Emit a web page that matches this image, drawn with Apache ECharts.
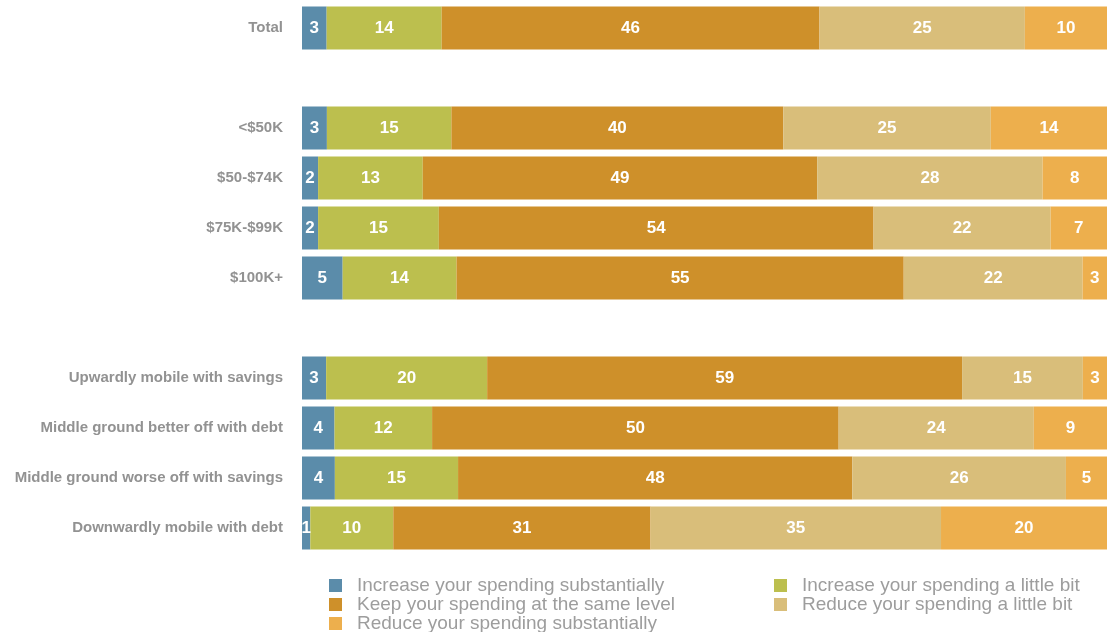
<!DOCTYPE html>
<html>
<head>
<meta charset="utf-8">
<script src="https://cdn.jsdelivr.net/npm/echarts@6/dist/echarts.min.js"></script>
<style>
  html, body { margin: 0; padding: 0; background: #fff; }
  #chart { width: 1107px; height: 632px; }
</style>
</head>
<body>
<div id="chart"></div>
<script>
// Row labels; empty entries are spacer rows between the groups
const categories = [
  'Total', '',
  '<$50K', '$50-$74K', '$75K-$99K', '$100K+', ' ',
  'Upwardly mobile with savings', 'Middle ground better off with debt',
  'Middle ground worse off with savings', 'Downwardly mobile with debt'
];

const seriesNames = [
  'Increase your spending substantially',
  'Increase your spending a little bit',
  'Keep your spending at the same level',
  'Reduce your spending a little bit',
  'Reduce your spending substantially'
];

// Percent of respondents per row (null = spacer row)
const increaseSubstantially = [3, null, 3, 2, 2, 5, null, 3, 4, 4, 1];
const increaseLittle        = [14, null, 15, 13, 15, 14, null, 20, 12, 15, 10];
const keepSame              = [46, null, 40, 49, 54, 55, null, 59, 50, 48, 31];
const reduceLittle          = [25, null, 25, 28, 22, 22, null, 15, 24, 26, 35];
const reduceSubstantially   = [10, null, 14, 8, 7, 3, null, 3, 9, 5, 20];

const colors = ['#5b8caa', '#bcbf4e', '#ce902a', '#d9be7a', '#edaf4d'];

const allSeries = [increaseSubstantially, increaseLittle, keepSame, reduceLittle, reduceSubstantially];

// Each bar is shown as a share of its row, so every row spans the full width
const rowTotals = categories.map((_, i) =>
  allSeries.reduce((s, arr) => s + (arr[i] == null ? 0 : arr[i]), 0));

const font = 'Liberation Sans, Arial, Helvetica, sans-serif';

const series = allSeries.map((arr, k) => ({
  name: seriesNames[k],
  type: 'bar',
  stack: 'all',
  barWidth: 43,
  itemStyle: { color: colors[k] },
  label: {
    show: true,
    position: 'inside',
    color: '#fff',
    fontWeight: 'bold',
    fontSize: 17,
    fontFamily: font,
    formatter: p => (p.data && p.data.raw != null ? String(p.data.raw) : '')
  },
  data: arr.map((v, i) => v == null ? '-' : { value: v / rowTotals[i] * 100, raw: v })
}));

const legendText = {
  fontSize: 19,
  color: '#9d9d9d',
  fontFamily: font,
  lineHeight: 19,
  padding: [0, 0, 0, 10]
};

const chart = echarts.init(document.getElementById('chart'), null, { renderer: 'canvas' });
chart.setOption({
  animation: false,
  backgroundColor: '#fff',
  grid: { left: 302, right: 0, top: 3, height: 550, containLabel: false },
  xAxis: {
    type: 'value', min: 0, max: 100,
    show: false
  },
  yAxis: {
    type: 'category',
    inverse: true,
    data: categories,
    axisLine: { show: false },
    axisTick: { show: false },
    axisLabel: {
      margin: 19,
      color: '#929292',
      fontWeight: 'bold',
      fontSize: 15,
      fontFamily: font
    }
  },
  legend: [
    {
      left: 329, top: 576, height: 90, orient: 'vertical',
      itemWidth: 13, itemHeight: 13, itemGap: 0, padding: 0,
      icon: 'rect',
      data: [seriesNames[0], seriesNames[2], seriesNames[4]],
      textStyle: legendText,
      selectedMode: false
    },
    {
      left: 774, top: 576, height: 90, orient: 'vertical',
      itemWidth: 13, itemHeight: 13, itemGap: 0, padding: 0,
      icon: 'rect',
      data: [seriesNames[1], seriesNames[3]],
      textStyle: legendText,
      selectedMode: false
    }
  ],
  series: series
});
</script>
</body>
</html>
